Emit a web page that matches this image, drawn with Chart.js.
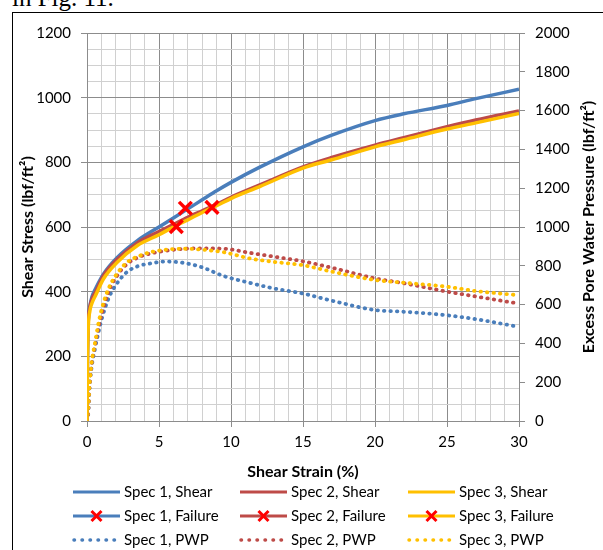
<!DOCTYPE html>
<html>
<head>
<meta charset="utf-8">
<script src="https://cdn.jsdelivr.net/npm/chart.js@4.4.1/dist/chart.umd.min.js"></script>
<style>
body { margin: 0; background: #fff; width: 603px; height: 550px; overflow: hidden; position: relative; }
#cap { position: absolute; left: 12px; top: -15px; font: 25px/25px "Liberation Serif", serif; color: #000; }
#frame { position: absolute; left: 12px; top: 12px; width: 700px; height: 700px; border: 1px solid #000; }
#wrap { position: absolute; left: 0; top: 0; width: 603px; height: 550px; }
</style>
</head>
<body>
<div id="cap">in Fig. 11.</div>
<div id="frame"></div>
<div id="wrap"><canvas id="chart"></canvas></div>
<script>

// DADOS

const shearStrain = [0, 0.03, 0.08, 0.2, 0.35, 0.6, 1.15, 2.1, 3.5, 5, 6, 7, 8, 9, 10, 12, 15, 17, 20, 22, 25, 27, 30];
const shear1 = [0, 190, 300, 355, 385, 410, 455, 506, 558, 600, 628, 656, 684, 712, 738, 785, 848, 884, 929, 950, 976, 997, 1026];
const shear2 = [0, 200, 300, 352, 378, 400, 450, 500, 551, 586, 608, 630, 650, 670, 692, 730, 786, 815, 853, 876, 910, 931, 959];
const shear3 = [0, 170, 280, 340, 365, 389, 440, 491, 543, 576, 600, 622, 645, 666, 688, 725, 782, 808, 848, 870, 903, 922, 951];

const pwpStrain = [0, 0.1, 0.15, 0.22, 0.33, 0.56, 0.8, 1.05, 1.5, 2.07, 2.76, 3.5, 4.4, 5.5, 6.7, 8, 9.5, 11.3, 13, 15, 17, 20, 22, 25, 27, 30];
const pwp1 = [0, 50, 133, 208, 283, 375, 458, 533, 633, 708, 767, 797, 812, 822, 815, 792, 747, 712, 683, 657, 620, 572, 563, 545, 525, 485];
const pwp2 = [0, 67, 150, 225, 300, 392, 483, 558, 667, 747, 808, 842, 863, 878, 887, 890, 888, 867, 847, 823, 790, 735, 710, 667, 642, 605];
const pwp3 = [0, 80, 155, 225, 305, 405, 505, 585, 683, 758, 817, 847, 870, 883, 888, 883, 870, 838, 820, 803, 770, 727, 713, 692, 670, 648];

const failStrain = [6.83, 8.68, 6.2];
const failStress = [658, 661, 601];

const specNames = ['Spec 1', 'Spec 2', 'Spec 3'];
const strainLabels = [0, 5, 10, 15, 20, 25, 30];
const stressLabels = [0, 200, 400, 600, 800, 1000, 1200];
const pwpLabels = [0, 200, 400, 600, 800, 1000, 1200, 1400, 1600, 1800, 2000];

// ESTILO

const specColors = ['#4a7ebb', '#be4b48', '#ffc000'];
const failColor = '#ff0000';
const majorGrid = '#8c8c8c';
const minorGrid = '#d0d0d0';
const fontFamily = 'Lato, "Open Sans", sans-serif';

const toXY = (xs, ys) => xs.map((x, i) => ({ x: x, y: ys[i] }));

const shearData = [shear1, shear2, shear3];
const pwpData = [pwp1, pwp2, pwp3];

const datasets = [];

specNames.forEach((name, i) => {
    datasets.push({
        label: name + ', Shear',
        kind: 'shear',
        data: toXY(shearStrain, shearData[i]),
        borderColor: specColors[i],
        borderWidth: 3.5,
        pointRadius: 0,
        cubicInterpolationMode: 'monotone',
        yAxisID: 'y',
        order: 3 - i
    });
});

specNames.forEach((name, i) => {
    datasets.push({
        label: name + ', Failure',
        kind: 'fail',
        data: [{ x: failStrain[i], y: failStress[i] }],
        showLine: false,
        borderColor: specColors[i],
        pointStyle: 'crossRot',
        pointRadius: 9,
        pointBorderWidth: 3.5,
        pointBorderColor: failColor,
        yAxisID: 'y',
        order: 0
    });
});

specNames.forEach((name, i) => {
    datasets.push({
        label: name + ', PWP',
        kind: 'pwp',
        data: toXY(pwpStrain, pwpData[i]),
        borderColor: specColors[i],
        borderWidth: 3.8,
        borderDash: [0.5, 6],
        borderCapStyle: 'round',
        pointRadius: 0,
        cubicInterpolationMode: 'monotone',
        yAxisID: 'y1',
        order: 6 - i
    });
});

// LEGENDA E TÍTULO DO EIXO DIREITO

const legendCols = [73, 240, 408];
const legendRows = [492, 516, 540];

const extras = {
    id: 'extras',
    afterDraw(chart) {
        const ctx = chart.ctx;
        const area = chart.chartArea;

        ctx.save();
        ctx.fillStyle = '#000';
        ctx.font = 'bold 16px ' + fontFamily;
        ctx.textAlign = 'center';
        ctx.textBaseline = 'middle';
        ctx.translate(589, (area.top + area.bottom) / 2);
        ctx.rotate(-Math.PI / 2);
        ctx.fillText('Excess Pore Water Pressure (lbf/ft²)', 0, 0);
        ctx.restore();

        chart.data.datasets.forEach((ds, i) => {
            const x0 = legendCols[i % 3];
            const y = legendRows[Math.floor(i / 3)];
            const x1 = x0 + 47;

            ctx.save();
            ctx.strokeStyle = ds.borderColor;
            ctx.lineWidth = ds.kind === 'pwp' ? 3.5 : 3;
            ctx.lineCap = ds.kind === 'pwp' ? 'round' : 'butt';
            ctx.setLineDash(ds.kind === 'pwp' ? [0.5, 7.5] : []);
            ctx.beginPath();
            ctx.moveTo(x0 + (ds.kind === 'pwp' ? 1 : 0), y);
            ctx.lineTo(x1, y);
            ctx.stroke();

            if (ds.kind === 'fail') {
                const cx = (x0 + x1) / 2, r = 5;
                ctx.setLineDash([]);
                ctx.strokeStyle = failColor;
                ctx.lineWidth = 3;
                ctx.beginPath();
                ctx.moveTo(cx - r, y - r); ctx.lineTo(cx + r, y + r);
                ctx.moveTo(cx + r, y - r); ctx.lineTo(cx - r, y + r);
                ctx.stroke();
            }

            ctx.fillStyle = '#000';
            ctx.font = '15px ' + fontFamily;
            ctx.textAlign = 'left';
            ctx.textBaseline = 'middle';
            ctx.fillText(ds.label, x1 + 4, y);
            ctx.restore();
        });
    }
};

// GRÁFICO

const isMajor = (v, step) => Math.abs(v % step) < 1e-6;

new Chart(document.getElementById('chart'), {
    type: 'line',
    data: { datasets: datasets },
    options: {
        responsive: true,
        maintainAspectRatio: false,
        animation: false,
        layout: { padding: { top: 33, left: 0, right: 0, bottom: 0 } },
        plugins: { legend: { display: false }, tooltip: { enabled: false } },
        scales: {
            x: {
                type: 'linear',
                min: 0,
                max: 30,
                ticks: {
                    stepSize: 1,
                    autoSkip: false,
                    maxRotation: 0,
                    padding: 6,
                    color: '#000',
                    font: { family: fontFamily, size: 15 },
                    callback: v => strainLabels.includes(v) ? v : ''
                },
                grid: {
                    color: c => isMajor(c.tick.value, 5) ? majorGrid : minorGrid,
                    tickColor: c => isMajor(c.tick.value, 5) ? majorGrid : 'transparent',
                    tickLength: 6
                },
                border: { color: majorGrid },
                title: {
                    display: true,
                    text: 'Shear Strain (%)',
                    color: '#000',
                    font: { family: fontFamily, size: 16, weight: 'bold' },
                    padding: { top: 0, bottom: 69 }
                },
                afterFit: s => { s.height = 129; }
            },
            y: {
                position: 'left',
                min: 0,
                max: 1200,
                ticks: {
                    stepSize: 50,
                    autoSkip: false,
                    padding: 10,
                    color: '#000',
                    font: { family: fontFamily, size: 15 },
                    callback: v => stressLabels.includes(v) ? v : ''
                },
                grid: {
                    color: c => isMajor(c.tick.value, 200) ? majorGrid : minorGrid,
                    tickColor: c => isMajor(c.tick.value, 200) ? majorGrid : 'transparent',
                    tickLength: 6
                },
                border: { color: majorGrid },
                title: {
                    display: true,
                    text: 'Shear Stress (lbf/ft²)',
                    color: '#000',
                    font: { family: fontFamily, size: 16, weight: 'bold' },
                    padding: { top: 18, bottom: 0 }
                },
                afterFit: s => { s.width = 87; }
            },
            y1: {
                position: 'right',
                min: 0,
                max: 2000,
                ticks: {
                    stepSize: 200,
                    autoSkip: false,
                    padding: 10,
                    color: '#000',
                    font: { family: fontFamily, size: 15 },
                    callback: v => pwpLabels.includes(v) ? v : ''
                },
                grid: {
                    drawOnChartArea: false,
                    tickColor: majorGrid,
                    tickLength: 6
                },
                border: { color: majorGrid },
                afterFit: s => { s.width = 84; }
            }
        }
    },
    plugins: [extras]
});

</script>
</body>
</html>
